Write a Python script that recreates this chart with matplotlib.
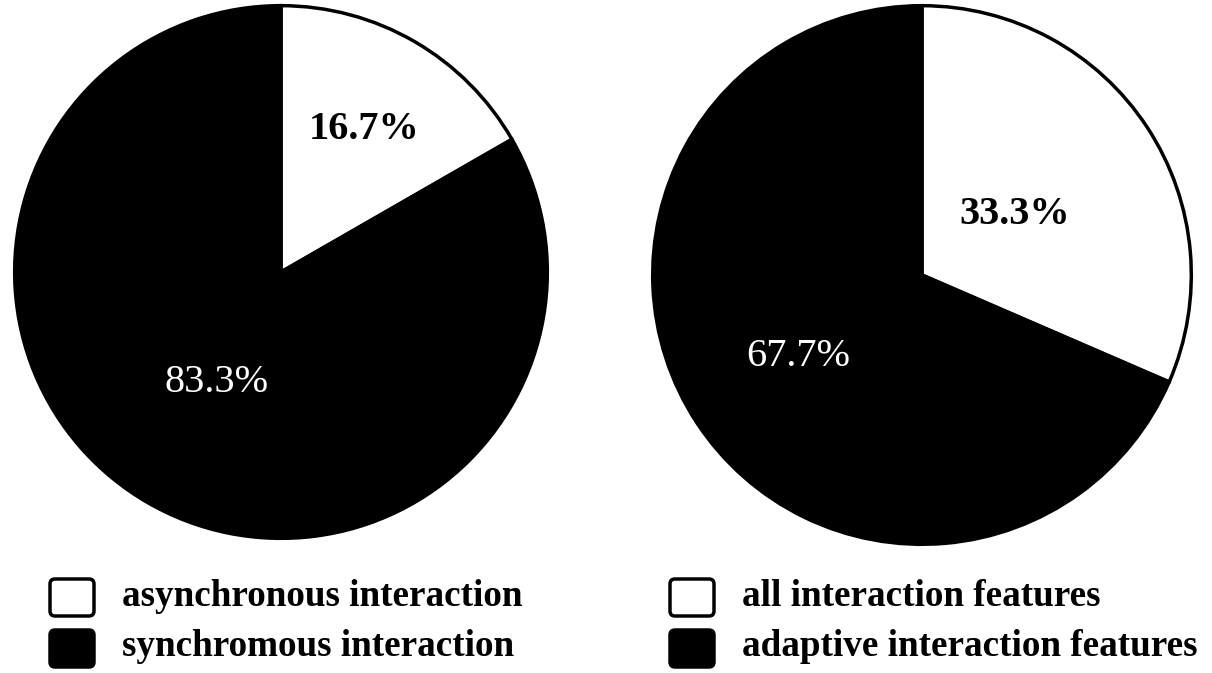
import matplotlib.pyplot as plt
from matplotlib.patches import FancyBboxPatch

plt.rcParams['font.family'] = ['Liberation Serif', 'DejaVu Serif']

# data
left_sizes = [16.7, 83.3]
left_labels = ['16.7%', '83.3%']
left_names = ['asynchronous interaction', 'synchromous interaction']

right_sizes = [31.5, 68.5]   # wedge sizes as drawn
right_labels = ['33.3%', '67.7%']
right_names = ['all interaction features', 'adaptive interaction features']

colors = ['white', 'black']
label_colors = ['black', 'white']
label_weights = ['bold', 'normal']

W, H = 1212, 673
fig = plt.figure(figsize=(W / 100, H / 100), dpi=100)


def pix_axes(x0, y0, w, h):
    return fig.add_axes([x0 / W, 1 - (y0 + h) / H, w / W, h / H])


def draw_pie(ax, sizes, labels, dists):
    wedges, _ = ax.pie(sizes, colors=colors, startangle=90, counterclock=False,
                       wedgeprops=dict(edgecolor='black', linewidth=2.5))
    import numpy as np
    for w, lab, c, fw, d in zip(wedges, labels, label_colors, label_weights, dists):
        mid = np.deg2rad((w.theta1 + w.theta2) / 2)
        ax.text(d * np.cos(mid), d * np.sin(mid), lab, ha='center', va='center',
                fontsize=29, color=c, fontweight=fw)
    ax.set_xlim(-1.01, 1.01)
    ax.set_ylim(-1.01, 1.01)
    ax.set_aspect('equal')
    ax.axis('off')


ax1 = pix_axes(12, 3, 538, 538)
draw_pie(ax1, left_sizes, left_labels, [0.62, 0.48])

ax2 = pix_axes(650, 3, 544, 544)
draw_pie(ax2, right_sizes, right_labels, [0.41, 0.55])

# legends
lax = fig.add_axes([0, 0, 1, 1])
lax.set_xlim(0, W)
lax.set_ylim(H, 0)
lax.axis('off')


def legend(x, names):
    for i, name in enumerate(names):
        y = 577 + i * 51
        box = FancyBboxPatch((x + 2, y + 2), 44, 37,
                             boxstyle='round,pad=0,rounding_size=5',
                             facecolor=colors[i], edgecolor='black', linewidth=2.5)
        lax.add_patch(box)
        lax.text(x + 74, y + 19, name, ha='left', va='center',
                 fontsize=26.7, fontweight='bold')


legend(48, left_names)
legend(668, right_names)

fig.savefig('out.png', dpi=100)
